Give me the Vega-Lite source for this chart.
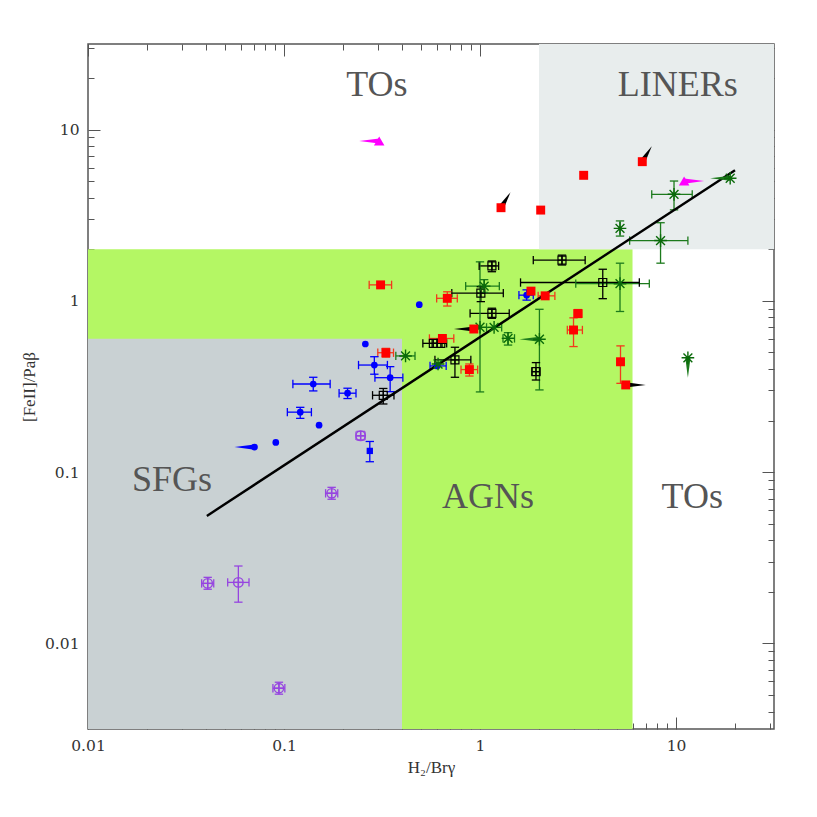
{
  "$schema": "https://vega.github.io/schema/vega-lite/v6.json",
  "width": 686,
  "height": 685,
  "autosize": {"type": "none"},
  "padding": {"left": 88, "top": 44, "right": 43, "bottom": 88},
  "background": "white",
  "config": {
    "view": {"stroke": "#555555", "strokeWidth": 1.5}
  },
  "datasets": {
    "regions": [
      {"r": "AGN", "x": 0.01, "x2": 6, "y": 0.0031623, "y2": 2},
      {"r": "SFG", "x": 0.01, "x2": 0.4, "y": 0.0031623, "y2": 0.6},
      {"r": "LINER", "x": 2, "x2": 31.623, "y": 2, "y2": 31.623}
    ],
    "labels": [
      {"t": "TOs", "x": 0.298, "y": 18.2},
      {"t": "LINERs", "x": 10.2, "y": 18.2},
      {"t": "SFGs", "x": 0.0268, "y": 0.09},
      {"t": "AGNs", "x": 1.1, "y": 0.0716},
      {"t": "TOs", "x": 12.1, "y": 0.0716}
    ],
    "fit": [
      {"x": 0.0404, "y": 0.0555},
      {"x": 20, "y": 5.8}
    ],
    "pts": [
      {"g": "blue", "x": 0.49, "y": 0.95},
      {"g": "blue", "x": 0.26, "y": 0.56},
      {"g": "blue", "x": 0.289, "y": 0.422, "xlo": 0.24, "xhi": 0.337, "ylo": 0.373, "yhi": 0.472},
      {"g": "blue", "x": 0.348, "y": 0.356, "xlo": 0.291, "xhi": 0.404, "ylo": 0.295, "yhi": 0.413},
      {"g": "blue", "x": 0.141, "y": 0.327, "xlo": 0.111, "xhi": 0.172, "ylo": 0.298, "yhi": 0.358},
      {"g": "blue", "x": 0.211, "y": 0.289, "xlo": 0.191, "xhi": 0.233, "ylo": 0.269, "yhi": 0.309},
      {"g": "blue", "x": 0.121, "y": 0.224, "xlo": 0.104, "xhi": 0.138, "ylo": 0.206, "yhi": 0.239},
      {"g": "blue", "x": 0.151, "y": 0.188},
      {"g": "blue", "x": 0.0908, "y": 0.149},
      {"g": "blue", "x": 0.0707, "y": 0.14, "lim": "left", "ac": "blue"},
      {"g": "blue", "x": 1.73, "y": 1.08, "xlo": 1.58, "xhi": 1.87, "ylo": 1.01, "yhi": 1.16},
      {"g": "blue", "x": 0.605, "y": 0.417, "xlo": 0.556, "xhi": 0.672},
      {"g": "bluesq", "x": 0.274, "y": 0.133, "ylo": 0.115, "yhi": 0.151},
      {"g": "purple", "x": 0.246, "y": 0.163, "xlo": 0.233, "xhi": 0.259, "ylo": 0.154, "yhi": 0.173},
      {"g": "purple", "x": 0.175, "y": 0.0752, "xlo": 0.163, "xhi": 0.188, "ylo": 0.0694, "yhi": 0.0815},
      {"g": "purple", "x": 0.0408, "y": 0.0224, "xlo": 0.038, "xhi": 0.0438, "ylo": 0.0207, "yhi": 0.0243},
      {"g": "purple", "x": 0.0585, "y": 0.0227, "xlo": 0.0516, "xhi": 0.0663, "ylo": 0.0174, "yhi": 0.0283},
      {"g": "purple", "x": 0.0942, "y": 0.00547, "xlo": 0.0878, "xhi": 0.101, "ylo": 0.00505, "yhi": 0.00593},
      {"g": "red", "x": 0.311, "y": 1.24, "xlo": 0.272, "xhi": 0.354},
      {"g": "red", "x": 0.681, "y": 1.035, "xlo": 0.601, "xhi": 0.766, "ylo": 0.933, "yhi": 1.13},
      {"g": "red", "x": 0.331, "y": 0.498, "xlo": 0.301, "xhi": 0.362, "ylo": 0.469, "yhi": 0.528},
      {"g": "red", "x": 0.643, "y": 0.603, "xlo": 0.552, "xhi": 0.735},
      {"g": "red", "x": 0.883, "y": 0.397, "xlo": 0.8, "xhi": 0.973, "ylo": 0.364, "yhi": 0.428},
      {"g": "red", "x": 0.93, "y": 0.685, "lim": "left", "ac": "black"},
      {"g": "red", "x": 1.82, "y": 1.14},
      {"g": "red", "x": 2.15, "y": 1.07, "xlo": 1.98, "xhi": 2.41},
      {"g": "red", "x": 3.16, "y": 0.843, "xlo": 3.02, "xhi": 3.31, "ylo": 0.8, "yhi": 0.89},
      {"g": "red", "x": 3.0, "y": 0.676, "xlo": 2.79, "xhi": 3.33, "ylo": 0.541, "yhi": 0.796},
      {"g": "red", "x": 5.21, "y": 0.441, "ylo": 0.33, "yhi": 0.546},
      {"g": "red", "x": 5.54, "y": 0.323, "lim": "right", "ac": "black"},
      {"g": "red", "x": 1.28, "y": 3.5, "lim": "upright", "ac": "black"},
      {"g": "red", "x": 2.04, "y": 3.39},
      {"g": "red", "x": 3.38, "y": 5.41},
      {"g": "red", "x": 6.73, "y": 6.5, "lim": "upright", "ac": "black"},
      {"g": "black", "x": 2.62, "y": 1.73, "xlo": 1.87, "xhi": 3.44, "ylo": 1.62, "yhi": 1.85},
      {"g": "black", "x": 4.23, "y": 1.28, "xlo": 1.61, "xhi": 6.5, "ylo": 1.03, "yhi": 1.53},
      {"g": "black", "x": 1.15, "y": 1.6, "xlo": 0.99, "xhi": 1.245, "ylo": 1.48, "yhi": 1.71},
      {"g": "black", "x": 1.01, "y": 1.11, "xlo": 0.718, "xhi": 1.315, "ylo": 0.99, "yhi": 1.21},
      {"g": "black", "x": 1.15, "y": 0.846, "xlo": 0.89, "xhi": 1.41, "ylo": 0.791, "yhi": 0.906},
      {"g": "black", "x": 0.578, "y": 0.565, "xlo": 0.511, "xhi": 0.64},
      {"g": "black", "x": 0.631, "y": 0.565, "xlo": 0.57, "xhi": 0.676},
      {"g": "black", "x": 0.745, "y": 0.452, "xlo": 0.589, "xhi": 0.898, "ylo": 0.358, "yhi": 0.536},
      {"g": "black", "x": 1.93, "y": 0.386, "xlo": 1.84, "xhi": 2.02, "ylo": 0.345, "yhi": 0.436},
      {"g": "black", "x": 0.321, "y": 0.281, "xlo": 0.283, "xhi": 0.364, "ylo": 0.25, "yhi": 0.308},
      {"g": "green", "x": 9.77, "y": 4.19, "xlo": 7.52, "xhi": 12.1, "ylo": 3.4, "yhi": 5.01},
      {"g": "green", "x": 18.9, "y": 5.2, "lim": "left", "ac": "green"},
      {"g": "green", "x": 5.18, "y": 2.65, "ylo": 2.39, "yhi": 2.93},
      {"g": "green", "x": 8.34, "y": 2.25, "xlo": 5.8, "xhi": 11.5, "ylo": 1.66, "yhi": 2.86},
      {"g": "green", "x": 5.18, "y": 1.26, "xlo": 3.08, "xhi": 7.31, "ylo": 0.867, "yhi": 1.66},
      {"g": "green", "x": 1.05, "y": 1.22, "xlo": 0.845, "xhi": 1.255, "ylo": 1.12, "yhi": 1.33},
      {"g": "green", "x": 1.0, "y": 0.701, "ylo": 0.294, "yhi": 1.69},
      {"g": "green", "x": 1.18, "y": 0.7, "xlo": 1.08, "xhi": 1.29},
      {"g": "green", "x": 1.39, "y": 0.604, "xlo": 1.31, "xhi": 1.5, "ylo": 0.552, "yhi": 0.652},
      {"g": "green", "x": 2.01, "y": 0.597, "ylo": 0.302, "yhi": 0.893, "lim": "left", "ac": "green"},
      {"g": "green", "x": 0.417, "y": 0.477, "xlo": 0.372, "xhi": 0.466},
      {"g": "green", "x": 0.611, "y": 0.428},
      {"g": "green", "x": 11.5, "y": 0.465, "lim": "down", "ac": "green"},
      {"g": "magenta", "x": 0.306, "y": 8.58, "lim": "left", "ac": "magenta"},
      {"g": "magenta", "x": 11.0, "y": 5.01, "lim": "right", "ac": "magenta"}
    ]
  },
  "resolve": {"axis": {"x": "independent", "y": "independent"}},
  "layer": [
    {
      "data": {"name": "regions"},
      "mark": {"type": "rect"},
      "encoding": {
        "x": {"field": "x", "type": "quantitative",
          "scale": {"type": "log", "domain": [0.01, 31.623], "nice": false},
          "axis": {
            "orient": "bottom", "values": [0.01, 0.1, 1, 10],
            "labelExpr": "format(datum.value, '~g')",
            "ticks": false, "domain": false, "grid": false,
            "labelFont": "DejaVu Serif", "labelFontSize": 15.5, "labelColor": "#333333", "labelPadding": 9,
            "labelFlush": false, "labelOverlap": false,
            "title": "H₂/Brγ", "titleFont": "Liberation Serif", "titleFontSize": 17, "titleFontWeight": "normal", "titleColor": "#333333", "titlePadding": 6
          }
        },
        "x2": {"field": "x2"},
        "y": {"field": "y", "type": "quantitative",
          "scale": {"type": "log", "domain": [0.0031623, 31.623], "nice": false},
          "axis": {
            "orient": "left", "values": [0.01, 0.1, 1, 10],
            "labelExpr": "format(datum.value, '~g')",
            "ticks": false, "domain": false, "grid": false,
            "labelFont": "DejaVu Serif", "labelFontSize": 15.5, "labelColor": "#333333", "labelPadding": 9,
            "labelFlush": false, "labelOverlap": false,
            "title": "[FeII]/Paβ", "titleFont": "Liberation Serif", "titleFontSize": 17, "titleFontWeight": "normal", "titleColor": "#333333", "titlePadding": 6
          }
        },
        "y2": {"field": "y2"},
        "fill": {"field": "r", "type": "nominal", "legend": null,
          "scale": {"domain": ["AGN", "SFG", "LINER"], "range": ["#b4f764", "#c9d1d3", "#e8eded"]}}
      }
    },
    {
      "data": {"name": "labels"},
      "mark": {"type": "text", "font": "Liberation Serif", "fontSize": 36, "color": "#555555", "baseline": "middle", "align": "center"},
      "encoding": {
        "x": {"field": "x", "type": "quantitative",
          "scale": {"type": "log", "domain": [0.01, 31.623], "nice": false},
          "axis": {"orient": "top", "title": null, "labels": false, "domain": false, "grid": false,
            "values": [0.01, 0.1, 1, 10], "tickSize": -12, "tickColor": "#555555"}
        },
        "y": {"field": "y", "type": "quantitative",
          "scale": {"type": "log", "domain": [0.0031623, 31.623], "nice": false},
          "axis": {"orient": "right", "title": null, "labels": false, "domain": false, "grid": false,
            "values": [0.01, 0.1, 1, 10], "tickSize": -12, "tickColor": "#555555"}
        },
        "text": {"field": "t", "type": "nominal"}
      }
    },
    {
      "data": {"name": "pts"},
      "transform": [{"filter": "isValid(datum.xlo)"}],
      "mark": {"type": "rule", "strokeWidth": 1.3},
      "encoding": {
        "x": {"field": "xlo", "type": "quantitative", "scale": {"type": "log", "domain": [0.01, 31.623], "nice": false},
          "axis": {"orient": "bottom", "title": null, "labels": false, "domain": false, "grid": false,
            "values": [0.01, 0.1, 1, 10], "tickSize": -12, "tickColor": "#555555"}},
        "x2": {"field": "xhi"},
        "y": {"field": "y", "type": "quantitative", "scale": {"type": "log", "domain": [0.0031623, 31.623], "nice": false},
          "axis": {"orient": "left", "title": null, "labels": false, "domain": false, "grid": false,
            "values": [0.01, 0.1, 1, 10], "tickSize": -12, "tickColor": "#555555"}},
        "color": {"field": "g", "type": "nominal", "legend": null,
          "scale": {"domain": ["blue", "bluesq", "purple", "red", "black", "green", "magenta"], "range": ["#0000ff", "#0000ff", "#9645e0", "#f23a1c", "#000000", "#1c7a1c", "#ff00ff"]}}
      }
    },
    {
      "data": {"name": "pts"},
      "transform": [{"filter": "isValid(datum.ylo)"}],
      "mark": {"type": "rule", "strokeWidth": 1.3},
      "encoding": {
        "x": {"field": "x", "type": "quantitative", "scale": {"type": "log", "domain": [0.01, 31.623], "nice": false},
          "axis": {"orient": "bottom", "title": null, "labels": false, "domain": false, "grid": false,
            "values": [0.02,0.03,0.04,0.05,0.06,0.07,0.08,0.09,0.2,0.3,0.4,0.5,0.6,0.7,0.8,0.9,2,3,4,5,6,7,8,9,20,30], "tickSize": -6, "tickColor": "#555555"}},
        "y": {"field": "ylo", "type": "quantitative", "scale": {"type": "log", "domain": [0.0031623, 31.623], "nice": false},
          "axis": {"orient": "left", "title": null, "labels": false, "domain": false, "grid": false,
            "values": [0.004,0.005,0.006,0.007,0.008,0.009,0.02,0.03,0.04,0.05,0.06,0.07,0.08,0.09,0.2,0.3,0.4,0.5,0.6,0.7,0.8,0.9,2,3,4,5,6,7,8,9,20,30], "tickSize": -6, "tickColor": "#555555"}},
        "y2": {"field": "yhi"},
        "color": {"field": "g", "type": "nominal", "legend": null,
          "scale": {"domain": ["blue", "bluesq", "purple", "red", "black", "green", "magenta"], "range": ["#0000ff", "#0000ff", "#9645e0", "#f23a1c", "#000000", "#1c7a1c", "#ff00ff"]}}
      }
    },
    {
      "data": {"name": "pts"},
      "transform": [{"filter": "isValid(datum.xlo)"}, {"fold": ["xlo", "xhi"], "as": ["side", "xc"]}],
      "mark": {"type": "point", "shape": "M0,-1L0,1", "size": 70, "strokeWidth": 1.3, "filled": false, "opacity": 1},
      "encoding": {
        "x": {"field": "xc", "type": "quantitative", "scale": {"type": "log", "domain": [0.01, 31.623], "nice": false},
          "axis": {"orient": "top", "title": null, "labels": false, "domain": false, "grid": false,
            "values": [0.02,0.03,0.04,0.05,0.06,0.07,0.08,0.09,0.2,0.3,0.4,0.5,0.6,0.7,0.8,0.9,2,3,4,5,6,7,8,9,20,30], "tickSize": -6, "tickColor": "#555555"}},
        "y": {"field": "y", "type": "quantitative", "scale": {"type": "log", "domain": [0.0031623, 31.623], "nice": false},
          "axis": {"orient": "right", "title": null, "labels": false, "domain": false, "grid": false,
            "values": [0.004,0.005,0.006,0.007,0.008,0.009,0.02,0.03,0.04,0.05,0.06,0.07,0.08,0.09,0.2,0.3,0.4,0.5,0.6,0.7,0.8,0.9,2,3,4,5,6,7,8,9,20,30], "tickSize": -6, "tickColor": "#555555"}},
        "color": {"field": "g", "type": "nominal", "legend": null,
          "scale": {"domain": ["blue", "bluesq", "purple", "red", "black", "green", "magenta"], "range": ["#0000ff", "#0000ff", "#9645e0", "#f23a1c", "#000000", "#1c7a1c", "#ff00ff"]}}
      }
    },
    {
      "data": {"name": "pts"},
      "transform": [{"filter": "isValid(datum.ylo)"}, {"fold": ["ylo", "yhi"], "as": ["side", "yc"]}],
      "mark": {"type": "point", "shape": "M-1,0L1,0", "size": 70, "strokeWidth": 1.3, "filled": false, "opacity": 1},
      "encoding": {
        "x": {"field": "x", "type": "quantitative", "scale": {"type": "log", "domain": [0.01, 31.623], "nice": false}, "axis": null},
        "y": {"field": "yc", "type": "quantitative", "scale": {"type": "log", "domain": [0.0031623, 31.623], "nice": false}, "axis": null},
        "color": {"field": "g", "type": "nominal", "legend": null,
          "scale": {"domain": ["blue", "bluesq", "purple", "red", "black", "green", "magenta"], "range": ["#0000ff", "#0000ff", "#9645e0", "#f23a1c", "#000000", "#1c7a1c", "#ff00ff"]}}
      }
    },
    {
      "data": {"name": "fit"},
      "mark": {"type": "line", "color": "black", "strokeWidth": 2.4},
      "encoding": {
        "x": {"field": "x", "type": "quantitative", "scale": {"type": "log", "domain": [0.01, 31.623], "nice": false}, "axis": null},
        "y": {"field": "y", "type": "quantitative", "scale": {"type": "log", "domain": [0.0031623, 31.623], "nice": false}, "axis": null}
      }
    },
    {
      "data": {"name": "pts"},
      "transform": [{"filter": "isValid(datum.lim)"}],
      "mark": {"type": "point", "size": 400, "filled": true, "opacity": 1, "strokeWidth": 0},
      "encoding": {
        "x": {"field": "x", "type": "quantitative", "scale": {"type": "log", "domain": [0.01, 31.623], "nice": false}, "axis": null},
        "y": {"field": "y", "type": "quantitative", "scale": {"type": "log", "domain": [0.0031623, 31.623], "nice": false}, "axis": null},
        "shape": {"field": "lim", "type": "nominal", "legend": null,
          "scale": {"domain": ["left", "right", "down", "upright"],
            "range": ["M-2,0L0,-0.26L0,0.26Z", "M2,0L0,-0.26L0,0.26Z", "M0,2L-0.26,0L0.26,0Z", "M0.95,-1.55L0.24,0.16L-0.24,-0.16Z"]}},
        "color": {"field": "ac", "type": "nominal", "legend": null,
          "scale": {"domain": ["blue", "bluesq", "purple", "red", "black", "green", "magenta"], "range": ["#0000ff", "#0000ff", "#9645e0", "#f23a1c", "#000000", "#1c7a1c", "#ff00ff"]}}
      }
    },
    {
      "data": {"name": "pts"},
      "transform": [{"filter": "datum.g == 'blue'"}],
      "mark": {"type": "point", "shape": "circle", "size": 45, "filled": true, "color": "#0000ff", "opacity": 1},
      "encoding": {
        "x": {"field": "x", "type": "quantitative", "scale": {"type": "log", "domain": [0.01, 31.623], "nice": false}, "axis": null},
        "y": {"field": "y", "type": "quantitative", "scale": {"type": "log", "domain": [0.0031623, 31.623], "nice": false}, "axis": null}
      }
    },
    {
      "data": {"name": "pts"},
      "transform": [{"filter": "datum.g == 'bluesq'"}],
      "mark": {"type": "point", "shape": "square", "size": 40, "filled": true, "color": "#0000ff", "opacity": 1},
      "encoding": {
        "x": {"field": "x", "type": "quantitative", "scale": {"type": "log", "domain": [0.01, 31.623], "nice": false}, "axis": null},
        "y": {"field": "y", "type": "quantitative", "scale": {"type": "log", "domain": [0.0031623, 31.623], "nice": false}, "axis": null}
      }
    },
    {
      "data": {"name": "pts"},
      "transform": [{"filter": "datum.g == 'purple'"}],
      "mark": {"type": "point", "shape": "M-1,0A1,1,0,1,0,1,0A1,1,0,1,0,-1,0M-1,0L1,0M0,-1L0,1", "size": 90, "filled": false, "color": "#9645e0", "strokeWidth": 1.4, "opacity": 1},
      "encoding": {
        "x": {"field": "x", "type": "quantitative", "scale": {"type": "log", "domain": [0.01, 31.623], "nice": false}, "axis": null},
        "y": {"field": "y", "type": "quantitative", "scale": {"type": "log", "domain": [0.0031623, 31.623], "nice": false}, "axis": null}
      }
    },
    {
      "data": {"name": "pts"},
      "transform": [{"filter": "datum.g == 'black'"}],
      "mark": {"type": "point", "shape": "M-1,-1L1,-1L1,1L-1,1ZM-1,0L1,0M0,-1L0,1", "size": 64, "filled": false, "color": "#000000", "strokeWidth": 1.2, "opacity": 1},
      "encoding": {
        "x": {"field": "x", "type": "quantitative", "scale": {"type": "log", "domain": [0.01, 31.623], "nice": false}, "axis": null},
        "y": {"field": "y", "type": "quantitative", "scale": {"type": "log", "domain": [0.0031623, 31.623], "nice": false}, "axis": null}
      }
    },
    {
      "data": {"name": "pts"},
      "transform": [{"filter": "datum.g == 'green'"}],
      "mark": {"type": "point", "shape": "M-1,0L1,0M0,-1L0,1M-0.7,-0.7L0.7,0.7M-0.7,0.7L0.7,-0.7", "size": 160, "filled": false, "color": "#0a6a0a", "strokeWidth": 1.4, "opacity": 1},
      "encoding": {
        "x": {"field": "x", "type": "quantitative", "scale": {"type": "log", "domain": [0.01, 31.623], "nice": false}, "axis": null},
        "y": {"field": "y", "type": "quantitative", "scale": {"type": "log", "domain": [0.0031623, 31.623], "nice": false}, "axis": null}
      }
    },
    {
      "data": {"name": "pts"},
      "transform": [{"filter": "datum.g == 'red'"}],
      "mark": {"type": "point", "shape": "square", "size": 80, "filled": true, "color": "#ff0000", "opacity": 1},
      "encoding": {
        "x": {"field": "x", "type": "quantitative", "scale": {"type": "log", "domain": [0.01, 31.623], "nice": false}, "axis": null},
        "y": {"field": "y", "type": "quantitative", "scale": {"type": "log", "domain": [0.0031623, 31.623], "nice": false}, "axis": null}
      }
    },
    {
      "data": {"name": "pts"},
      "transform": [{"filter": "datum.g == 'magenta'"}],
      "mark": {"type": "point", "shape": "triangle-up", "size": 110, "filled": true, "color": "#ff00ff", "opacity": 1},
      "encoding": {
        "x": {"field": "x", "type": "quantitative", "scale": {"type": "log", "domain": [0.01, 31.623], "nice": false}, "axis": null},
        "y": {"field": "y", "type": "quantitative", "scale": {"type": "log", "domain": [0.0031623, 31.623], "nice": false}, "axis": null}
      }
    }
  ]
}
